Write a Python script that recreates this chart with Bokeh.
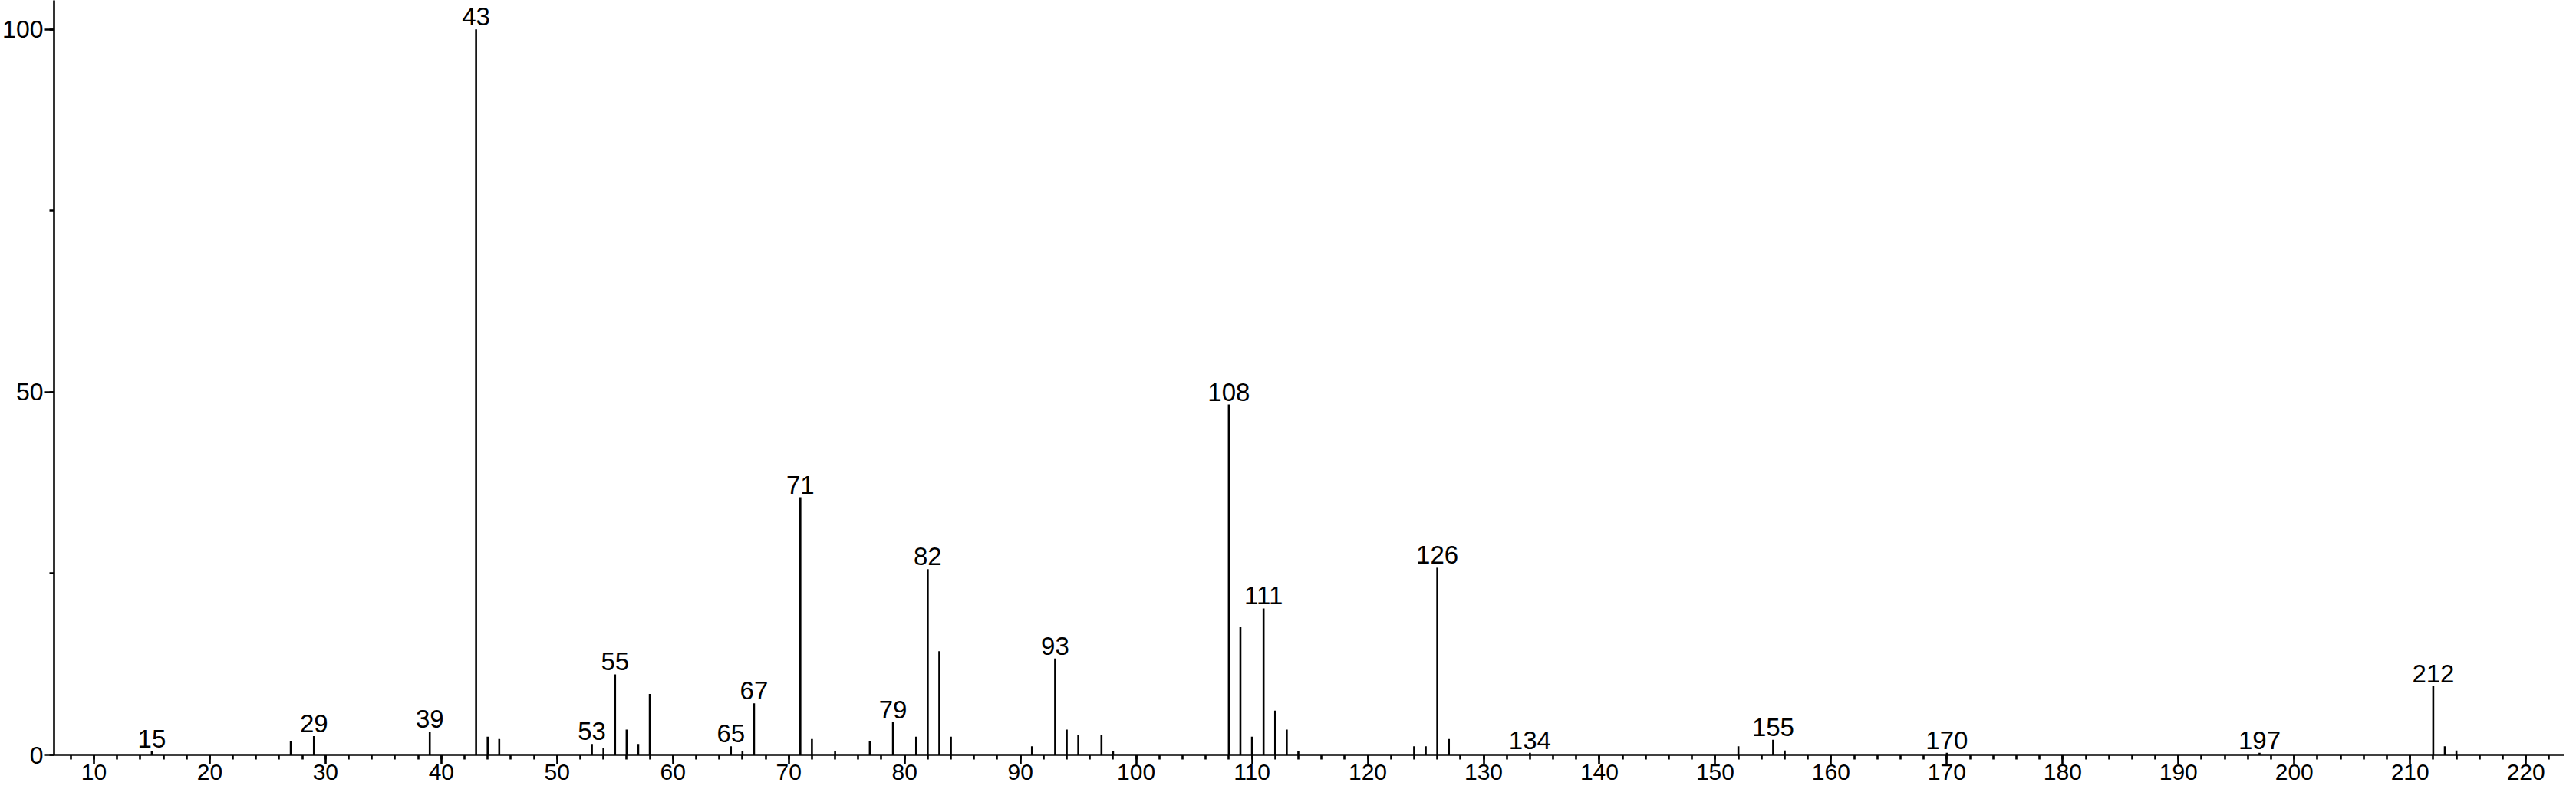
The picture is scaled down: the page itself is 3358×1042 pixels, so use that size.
from bokeh.plotting import figure
from bokeh.models import Range1d, SingleIntervalTicker, ColumnDataSource, LabelSet
from bokeh.core.properties import value
from bokeh.embed import file_html
from bokeh.resources import INLINE

# m/z values and relative intensities (%)
mz = [15, 27, 29, 39, 43, 44, 45, 53, 54, 55, 56, 57, 58, 65, 66, 67, 71, 72, 74,
      77, 79, 81, 82, 83, 84, 91, 93, 94, 95, 97, 98, 108, 109, 110, 111, 112, 113,
      114, 124, 125, 126, 127, 134, 152, 155, 156, 170, 197, 212, 213, 214]
intensity = [0.5, 1.9, 2.6, 3.2, 100.0, 2.5, 2.2, 1.5, 0.9, 11.1, 3.5, 1.5, 8.4, 1.2, 0.5,
             7.1, 35.5, 2.2, 0.5, 1.9, 4.5, 2.5, 25.6, 14.3, 2.5, 1.2, 13.3, 3.5, 2.8,
             2.8, 0.5, 48.3, 17.6, 2.5, 20.2, 6.1, 3.5, 0.5, 1.2, 1.2, 25.8, 2.2, 0.3,
             1.2, 2.1, 0.6, 0.3, 0.3, 9.5, 1.2, 0.6]
labeled_mz = [15, 29, 39, 43, 53, 55, 65, 67, 71, 79, 82, 93, 108, 111, 126, 134,
              155, 170, 197, 212]

FONT = "Liberation Sans"

peaks = ColumnDataSource(dict(x=mz, y0=[0] * len(mz), y=intensity))
lookup = dict(zip(mz, intensity))
labels = ColumnDataSource(dict(x=labeled_mz, y=[lookup[m] for m in labeled_mz],
                               t=[str(m) for m in labeled_mz]))

p = figure(width=3342, height=1026, output_backend="svg", toolbar_location=None,
           x_range=Range1d(6.56, 223.3), y_range=Range1d(0, 104.0),
           min_border_left=0, min_border_right=0, min_border_top=0, min_border_bottom=42)
p.outline_line_color = None
p.xgrid.grid_line_color = None
p.ygrid.grid_line_color = None
p.background_fill_color = "white"
p.border_fill_color = "white"

p.segment(x0="x", y0="y0", x1="x", y1="y", source=peaks, line_color="black", line_width=2.6)
p.add_layout(LabelSet(x="x", y="y", text="t", source=labels, text_align="center",
                      text_baseline="alphabetic", y_offset=5, text_font=value(FONT),
                      text_font_size="33px", text_color="black",
                      border_line_color=None, background_fill_color=None))

for ax, interval, nminor, standoff in ((p.xaxis[0], 10, 5, 0), (p.yaxis[0], 50, 2, 2)):
    ax.ticker = SingleIntervalTicker(interval=interval, num_minor_ticks=nminor)
    ax.axis_line_color = "black"
    ax.axis_line_width = 2.6
    ax.major_tick_line_color = "black"
    ax.major_tick_line_width = 2.6
    ax.minor_tick_line_color = "black"
    ax.minor_tick_line_width = 2.6
    ax.major_tick_in = 0
    ax.major_tick_out = 12
    ax.minor_tick_in = 0
    ax.minor_tick_out = 6
    ax.major_label_text_font = FONT
    ax.major_label_text_font_size = "30px" if interval == 10 else "32px"
    ax.major_label_text_color = "black"
    ax.major_label_standoff = standoff

open("out.html", "w").write(file_html(p, INLINE))
